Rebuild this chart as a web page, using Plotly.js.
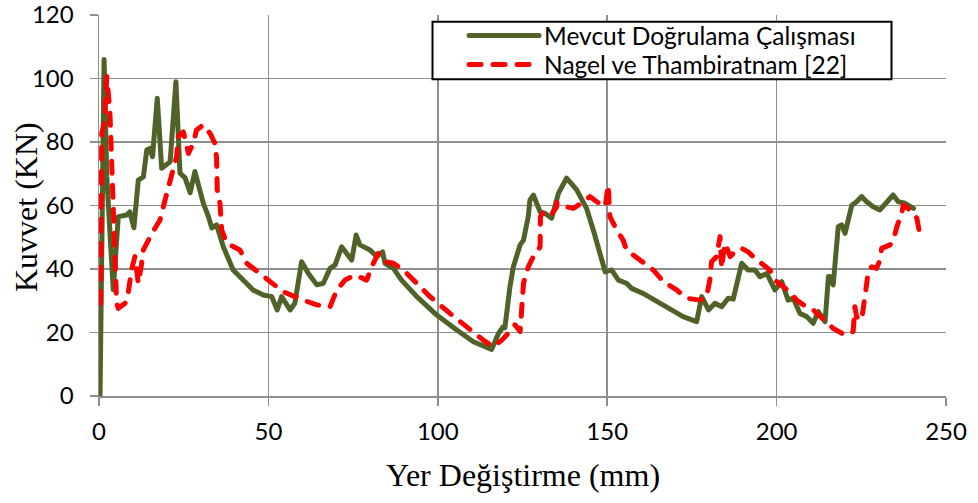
<!DOCTYPE html>
<html>
<head>
<meta charset="utf-8">
<script src="https://cdn.plot.ly/plotly-3.0.1.min.js"></script>
<style>
html,body{margin:0;padding:0;background:#fff}
#chart{width:978px;height:503px}
path.js-line{stroke-linecap:round;stroke-linejoin:round}
</style>
</head>
<body>
<div id="chart"></div>
<script>
const seriesNames = ["Mevcut Doğrulama Çalışması", "Nagel ve Thambiratnam [22]"];

const mevcutX = [0.3,1.5,2.3,3.7,4.2,5.7,8.2,9.1,10.3,11.6,13.1,14.1,15.0,15.8,17.2,18.5,21,22.7,23.9,25.4,26.9,28.3,30.8,32.3,33.3,34.7,36.7,39.6,43.6,45.5,48.5,51,52.6,53.9,56.4,57.8,59.8,61.8,64.3,66.2,68.2,69.7,71.6,74.6,75.9,77,80,82,83.7,84.4,86.9,89.3,93.8,99.7,105.6,110.5,115.9,117.9,119.3,119.8,121.3,122.3,124.3,125.3,126.7,127.2,128.2,130.2,131.7,133.6,135.6,138,141,143.9,145.9,147.9,149.4,151.3,153.3,155.7,157.2,160.6,167.5,172.4,176.4,177.9,179.9,181.8,183.8,185.7,187.2,189.7,191.6,193.6,195.1,197.1,199.5,201.5,203.4,204.9,206.9,208.9,210.8,212.3,214.3,215.3,215.7,216.7,218.2,219.2,220.2,222.2,223.6,225.1,226.6,228.5,230.5,232.5,234.4,235.9,237.9,240.4];
const mevcutY = [0,106,69,40,33.5,56.5,57,58,53,68,69,77.5,78,75.4,93.8,71.7,73.8,99,70.2,68.7,64,70.7,60.7,56.5,52.9,53.9,47,39.7,35.5,33.4,31.8,31.3,27.1,31.3,27.1,29.2,42.3,38.6,35,35.5,40.2,41.3,47,42.8,50.7,47.6,46,43.9,45.4,41.8,40.2,36.5,31.3,25.5,20.8,17.1,14.7,19.7,21.8,21.5,34.4,40.7,47.6,49.1,56.5,61.7,63.3,58,57.5,56,63.8,68.6,64.9,59.1,52.3,43.9,39.1,39.7,36.5,35.5,33.9,32.3,28.1,25,23.4,31.3,27.1,29.2,28.1,30.8,30.5,41.8,39.7,39.7,37.6,38.6,33.4,36,30.2,30.8,26,25,22.9,26.6,23.4,37.6,37.6,35,53.3,53.9,51.2,60.1,61.2,62.8,61.2,59.6,58.6,61.2,63.3,61.2,60.7,59.1];

const nagelX = [0.5,0.8,1.6,2.3,3.2,4.2,5.2,5.7,7.7,8.6,9.6,10.6,11.6,12.6,13.1,15.6,18,20,21.5,22.9,23.4,24.9,26.4,27.8,28.8,30.8,32.8,34.2,34.7,34.9,35.7,36.2,37.7,41.6,43.6,47.5,50.5,54.4,60.3,64.3,68.2,70.2,72.6,75.6,79,80.5,82.4,84.4,86.9,89.8,93.8,97.7,103.6,109.5,113.4,116.4,118.9,121.3,122.8,124.3,124.8,125.3,126.7,128.2,130.2,130.3,130.8,133.1,135.1,135.2,138,140,143,144.9,146.9,149.4,150.3,150.8,152.8,154.7,155.7,159.7,163.6,166.6,170.5,173.4,177.4,179.3,180.3,180.8,182.3,183.3,183.8,184.3,184.8,186.3,188.2,189.7,191.6,193.6,195.6,198,199.5,201.5,203.9,205.9,207.9,210.8,213.8,216.7,220.2,222.6,223.1,223.6,225.1,225.6,226.6,227.1,228.1,229.5,230.5,231,233.5,235,235.5,237,237.4,239.4,241.4,242.3];
const nagelY = [29.2,82.7,86,100.6,90,58.6,29.2,27.6,29.2,32.3,39.7,43.9,35.5,41.8,46,51.2,55.4,63.8,70.1,75.4,81.7,83.2,76.4,79.6,83.8,85.4,82.7,79.6,75,64.9,60.7,52.3,48.1,46,41.8,38.6,36,32.8,30.2,28.7,28.1,33.4,36.5,38.1,36.5,40.7,44.9,42.3,41.8,39.7,35.5,31.3,26,20.8,17.6,15.5,17.6,20.3,22.4,20.3,28.1,35.5,40.7,43.9,47,56.5,57.5,56.5,59.6,61,59.6,59.1,61.2,62.8,61.2,59.6,66.5,56.5,52.3,49.1,46,42.8,39.7,36,33.4,30.8,30.2,31.2,36.5,42.3,43.9,50.2,40.2,44.9,48.1,43.9,46,46.5,45.4,43.4,41.8,39.7,36.5,35,32.8,30.2,28.7,27.1,23.9,21.3,19.2,20.3,28.1,25,23.9,27.1,35.5,39.7,40.7,40.2,42.8,46.5,47.6,51.2,53.3,58,60.1,58.6,56,50.7];

const xTicks = [0,50,100,150,200,250];
const yTicks = [0,20,40,60,80,100,120];
const xTitle = 'Yer Değiştirme (mm)';
const yTitle = 'Kuvvet (KN)';

const traces = [
  {x: mevcutX, y: mevcutY, name: seriesNames[0], type: 'scatter', mode: 'lines',
   legend: 'legend', line: {color: '#4F6228', width: 5}},
  {x: nagelX, y: nagelY, name: seriesNames[1], type: 'scatter', mode: 'lines',
   legend: 'legend2', line: {color: '#FF0000', width: 5, dash: '12px,12px'}}
];

const grid = '#8f8f8f';
const tickFont = {family: 'Lato, sans-serif', size: 24, color: '#000'};
const titleFont = {family: 'Liberation Serif, Times New Roman, serif', size: 32, color: '#000'};
const legendFont = {family: 'Lato, sans-serif', size: 24.5, color: '#000'};
const legendX = 0.431;
const layout = {
  width: 978, height: 503,
  margin: {l: 99, r: 32, t: 15, b: 107},
  paper_bgcolor: '#fff', plot_bgcolor: '#fff',
  showlegend: true,
  legend: {x: legendX, y: 1 - (35.5 - 15) / 381, xanchor: 'left', yanchor: 'middle',
    borderwidth: 0, bgcolor: 'rgba(0,0,0,0)', font: legendFont, itemwidth: 70},
  legend2: {x: legendX, y: 1 - (64.5 - 15) / 381, xanchor: 'left', yanchor: 'middle',
    borderwidth: 0, bgcolor: 'rgba(0,0,0,0)', font: legendFont, itemwidth: 70},
  shapes: [{type: 'rect', xref: 'paper', yref: 'paper',
    x0: (432.5 - 99) / 847, x1: (891.5 - 99) / 847,
    y0: 1 - (79.3 - 15) / 381, y1: 1 - (21.7 - 15) / 381,
    line: {color: '#000', width: 2}, fillcolor: '#fff', layer: 'above'}],
  annotations: [
    {text: xTitle, xref: 'paper', yref: 'paper', x: 0.5, y: (396 - 475) / 381,
     xanchor: 'center', yanchor: 'middle', showarrow: false, font: titleFont},
    {text: yTitle, xref: 'paper', yref: 'paper', x: (26 - 99) / 847, y: 0.496,
     xanchor: 'center', yanchor: 'middle', showarrow: false, textangle: -90, font: titleFont}
  ],
  xaxis: {range: [0, 250], tickvals: xTicks, ticktext: xTicks.map(String),
    showgrid: true, gridcolor: grid, gridwidth: 1.5,
    showline: true, linecolor: grid, linewidth: 1.5,
    ticks: 'outside', ticklen: 8, tickcolor: grid, tickwidth: 1.5,
    ticklabelstandoff: 6, ticklabeloverflow: 'allow',
    zeroline: false, fixedrange: true, tickfont: tickFont},
  yaxis: {range: [0, 120], tickvals: yTicks, ticktext: yTicks.map(String),
    showgrid: true, gridcolor: grid, gridwidth: 1.5,
    showline: true, linecolor: grid, linewidth: 1.5,
    ticks: 'outside', ticklen: 8, tickcolor: grid, tickwidth: 1.5,
    ticklabelstandoff: 11, ticklabeloverflow: 'allow',
    zeroline: false, fixedrange: true, tickfont: tickFont}
};

Plotly.newPlot('chart', traces, layout, {displayModeBar: false, staticPlot: true});
</script>
</body>
</html>
